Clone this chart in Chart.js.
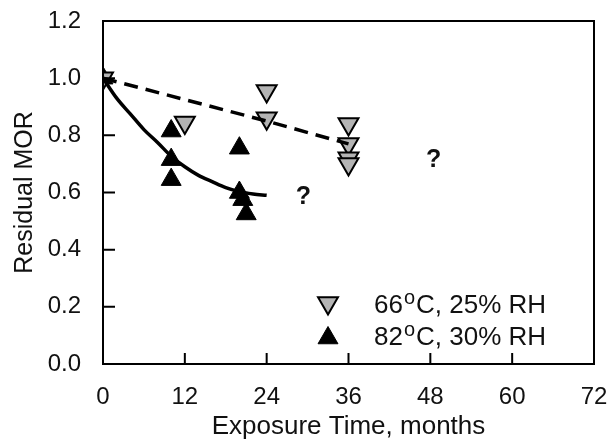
<!DOCTYPE html>
<html>
<head>
<meta charset="utf-8">
<script src="https://cdn.jsdelivr.net/npm/chart.js@4/dist/chart.umd.min.js"></script>
<style>
  html, body { margin: 0; padding: 0; background: #fff; }
  #wrap { width: 612px; height: 445px; }
</style>
</head>
<body>
<div id="wrap"><canvas id="chart" width="612" height="445"></canvas></div>
<script>
// axis ticks
const xTicks = [0, 12, 24, 36, 48, 60, 72];
const yTicks = [0, 0.2, 0.4, 0.6, 0.8, 1.0, 1.2];

// 66C, 25% RH (grey, down triangles)
const grey66x = [0, 12, 24, 24, 36, 36, 36, 36];
const grey66y = [1.0, 0.845, 0.955, 0.86, 0.84, 0.77, 0.72, 0.70];
// 82C, 30% RH (black, up triangles)
const black82x = [0, 10, 10, 10, 20, 20, 20.5, 21];
const black82y = [1.0, 0.815, 0.715, 0.645, 0.755, 0.60, 0.575, 0.525];

// fitted trend lines
const fit66x = [0, 12, 24, 36];
const fit66y = [1.0, 0.925, 0.85, 0.77];
const fit82x = [0, 2, 4, 6, 8, 10, 12, 14, 16, 18, 20, 22, 24];
const fit82y = [1.0, 0.93, 0.875, 0.82, 0.775, 0.727, 0.69, 0.66, 0.638, 0.617, 0.603, 0.595, 0.59];

// question marks
const noteX = [29.4, 48.5];
const noteY = [0.585, 0.714];
const noteText = ['?', '?'];

const labels = ['66°C, 25% RH', '82°C, 30% RH'];

const toPts = (xs, ys) => xs.map((x, i) => ({ x: x, y: ys[i] }));
const FONT = 'Liberation Sans, Arial, Helvetica, sans-serif';
const INK = '#111';

// frame, inward ticks, question marks and legend
const extrasPlugin = {
  id: 'extras',
  afterDraw(chart) {
    const { ctx, scales: { x, y } } = chart;
    const l = x.getPixelForValue(0), r = x.getPixelForValue(72);
    const t = y.getPixelForValue(1.2), b = y.getPixelForValue(0);
    ctx.save();
    ctx.setLineDash([]);
    ctx.globalAlpha = 1;
    ctx.strokeStyle = '#000';
    ctx.lineWidth = 2;
    ctx.strokeRect(l, t, r - l, b - t);
    ctx.beginPath();
    xTicks.slice(1, -1).forEach(v => {
      const px = x.getPixelForValue(v);
      ctx.moveTo(px, b);
      ctx.lineTo(px, b - 11);
    });
    yTicks.slice(1, -1).forEach(v => {
      const py = y.getPixelForValue(v);
      ctx.moveTo(l, py);
      ctx.lineTo(l + 12, py);
    });
    ctx.stroke();

    ctx.fillStyle = INK;
    ctx.font = 'bold 25px ' + FONT;
    ctx.textAlign = 'center';
    ctx.textBaseline = 'middle';
    noteText.forEach((s, i) => {
      ctx.fillText(s, x.getPixelForValue(noteX[i]), y.getPixelForValue(noteY[i]));
    });

    const ds = chart.data.datasets;
    const rows = [b - 60, b - 28];
    [0, 1].forEach(i => {
      const d = ds[i];
      ctx.fillStyle = d.backgroundColor;
      ctx.strokeStyle = d.borderColor;
      ctx.lineWidth = d.borderWidth;
      Chart.helpers.drawPoint(ctx, {
        pointStyle: 'triangle', rotation: d.rotation || 0, radius: d.pointRadius, borderWidth: d.borderWidth
      }, r - 266, rows[i] + (d.rotation ? -1 : 2));
      // text with superscript o
      const parts = labels[i].split('°');
      let tx = r - 220;
      ctx.fillStyle = INK;
      ctx.textAlign = 'left';
      ctx.textBaseline = 'alphabetic';
      const base = rows[i] + 9;
      ctx.font = '26px ' + FONT;
      ctx.fillText(parts[0], tx, base);
      tx += ctx.measureText(parts[0]).width + 1;
      ctx.font = '20px ' + FONT;
      ctx.fillText('o', tx, base - 9);
      tx += ctx.measureText('o').width + 1;
      ctx.font = '26px ' + FONT;
      ctx.fillText(parts[1], tx, base);
    });
    ctx.restore();
  }
};

new Chart(document.getElementById('chart'), {
  type: 'scatter',
  data: {
    datasets: [
      {
        label: labels[0],
        data: toPts(grey66x, grey66y),
        pointStyle: 'triangle',
        rotation: 180,
        pointRadius: 11.5,
        backgroundColor: '#b4b4b4',
        borderColor: '#000',
        borderWidth: 2,
        order: 3
      },
      {
        label: labels[1],
        data: toPts(black82x, black82y),
        pointStyle: 'triangle',
        pointRadius: 11.5,
        backgroundColor: '#000',
        borderColor: '#000',
        borderWidth: 1,
        order: 4
      },
      {
        label: 'fit66',
        data: toPts(fit66x, fit66y),
        showLine: true,
        pointRadius: 0,
        borderColor: '#000',
        borderWidth: 3.5,
        borderDash: [14, 8],
        order: 1
      },
      {
        label: 'fit82',
        data: toPts(fit82x, fit82y),
        showLine: true,
        pointRadius: 0,
        borderColor: '#000',
        borderWidth: 3.5,
        cubicInterpolationMode: 'monotone',
        order: 2
      }
    ]
  },
  options: {
    responsive: false,
    devicePixelRatio: 1,
    animation: false,
    layout: { padding: { top: 21, right: 18, left: 0, bottom: 0 } },
    scales: {
      x: {
        type: 'linear',
        min: 0,
        max: 72,
        afterBuildTicks: s => { s.ticks = xTicks.map(v => ({ value: v })); },
        afterFit: s => { s.height = 81; s.paddingLeft = 0; s.paddingRight = 0; },
        grid: { display: false },
        border: { display: false },
        ticks: { font: { family: FONT, size: 24 }, color: INK, padding: 11 },
        title: { display: true, text: 'Exposure Time, months', font: { family: FONT, size: 26 }, color: INK, padding: 3 }
      },
      y: {
        min: 0,
        max: 1.2,
        afterBuildTicks: s => { s.ticks = yTicks.map(v => ({ value: v })); },
        afterFit: s => { s.width = 103; s.paddingTop = 0; s.paddingBottom = 0; },
        grid: { display: false },
        border: { display: false },
        ticks: { font: { family: FONT, size: 24 }, color: INK, padding: 14, callback: v => v.toFixed(1) },
        title: { display: true, text: 'Residual MOR', font: { family: FONT, size: 25 }, color: INK, padding: 10 }
      }
    },
    plugins: {
      legend: { display: false },
      tooltip: { enabled: false }
    }
  },
  plugins: [extrasPlugin]
});
</script>
</body>
</html>
